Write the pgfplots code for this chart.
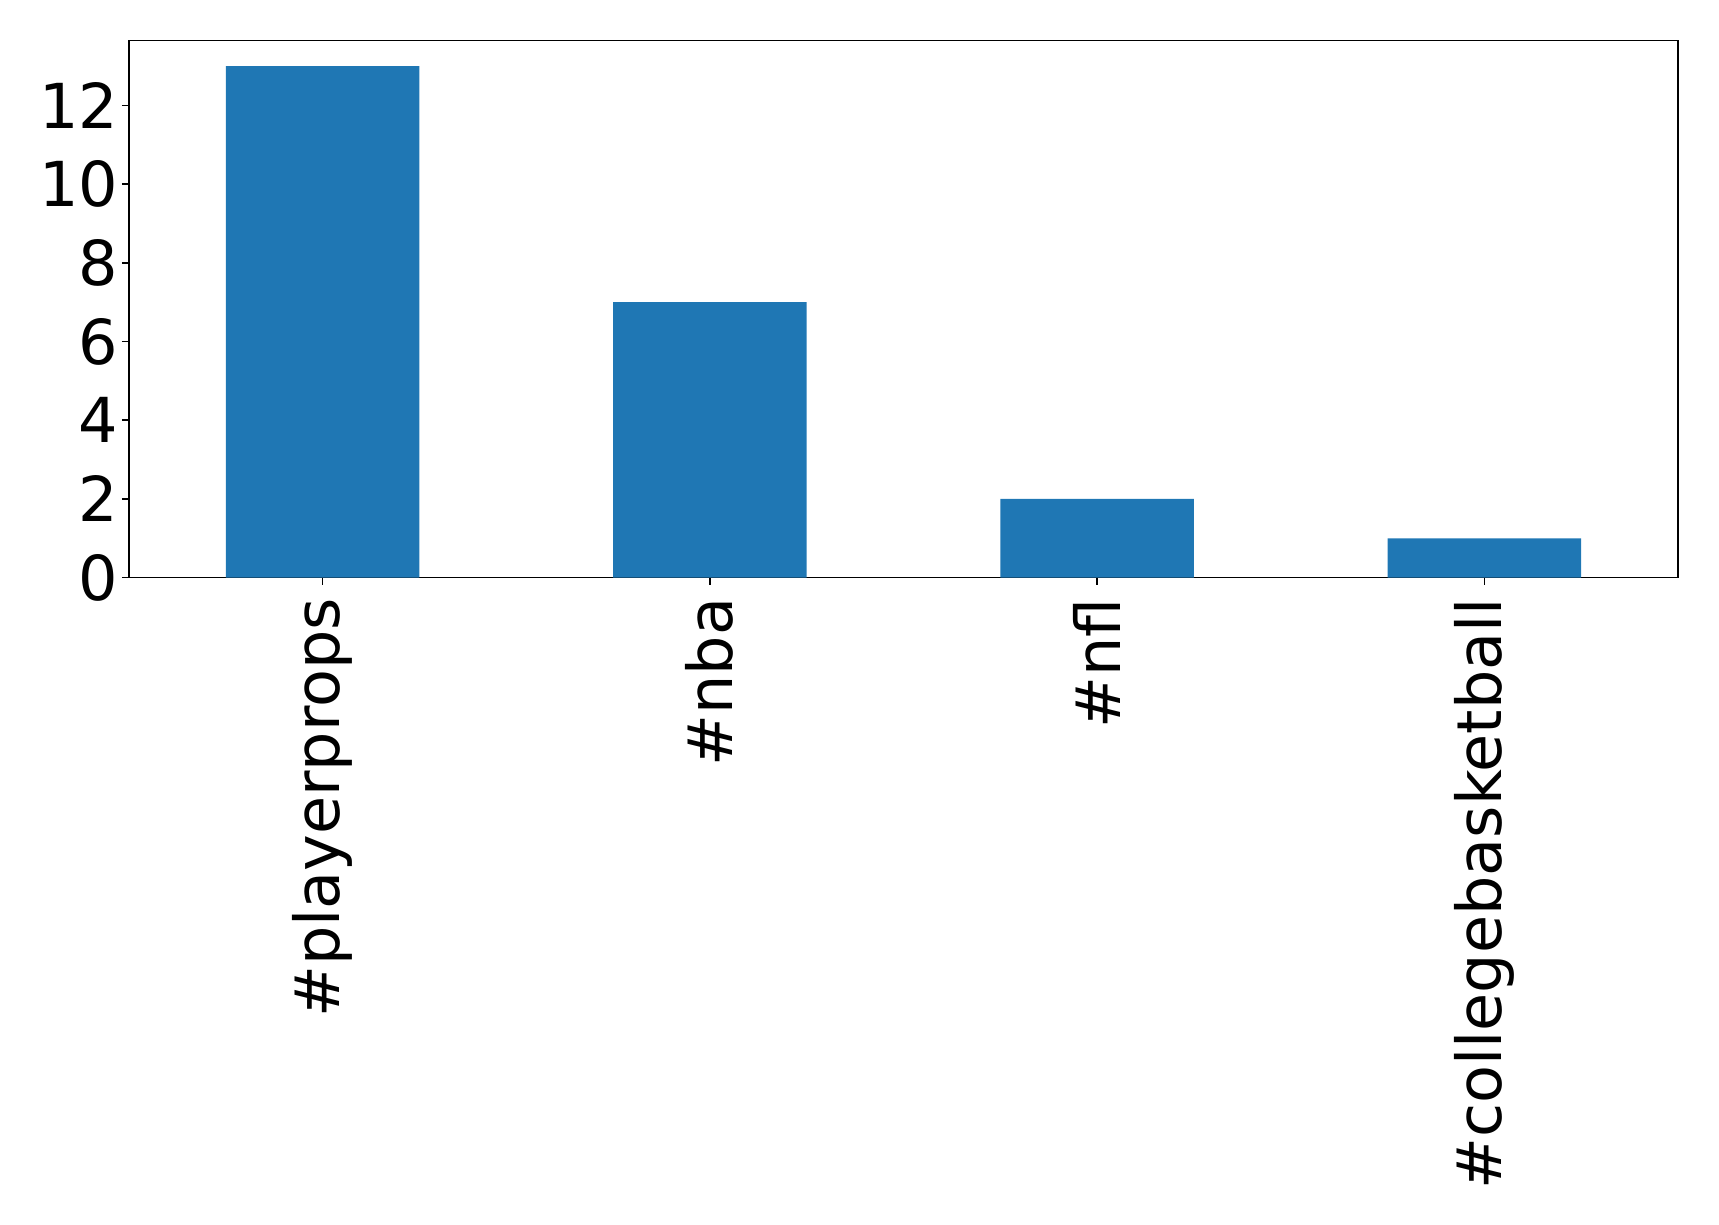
\documentclass[border=0pt]{standalone}
\usepackage{fontspec}
\setmainfont{DejaVu Sans}
\usepackage{pgfplots}
\pgfplotsset{compat=1.18}
\definecolor{mplblue}{HTML}{1F77B4}
\begin{document}
\begin{tikzpicture}
\begin{axis}[
  name=ax,
  scale only axis,
  width=774.5pt, height=268.5pt,
  xmin=-0.5, xmax=3.5, ymin=0, ymax=13.65,
  xtick=data,
  xticklabels={\#playerprops,\#nba,\#nfl,\#collegebasketball},
  ytick={0,2,...,12},
  tick align=outside, major tick length=3.5pt,
  xtick pos=bottom, ytick pos=left,
  tick style={black, line width=0.8pt},
  axis line style={line width=0.8pt},
  every tick label/.append style={font=\fontsize{31}{37}\selectfont, inner sep=0pt},
  /pgf/number format/assume math mode=true,
  xticklabel style={rotate=90, anchor=east},
  xticklabel shift=6.5pt,
  yticklabel shift=1.8pt,
]
\addplot[ybar, bar width=0.5, fill=mplblue, draw=none] coordinates {(0,13) (1,7) (2,2) (3,1)};
\end{axis}
\path[use as bounding box] ([shift={(-64.5pt,-323.5pt)}]ax.south west) rectangle ([shift={(20.5pt,20.3pt)}]ax.north east);
\end{tikzpicture}
\end{document}
